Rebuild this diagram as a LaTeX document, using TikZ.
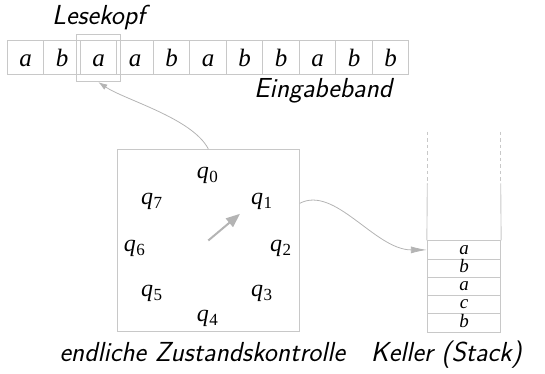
\documentclass[tikz,border=0pt]{standalone}
\usepackage{fontspec}
\newfontfamily\tms{Liberation Serif}
\usetikzlibrary{arrows.meta}
\definecolor{lg}{RGB}{200,200,200}
\definecolor{ag}{RGB}{180,180,180}
\newcommand\qlab[1]{q\kern0.5pt\raisebox{-4pt}{\upshape\fontsize{17}{17}\selectfont #1}}
\begin{document}
\begin{tikzpicture}[x=1pt,y=1pt,
  cell/.style={draw=lg,line width=0.9pt,minimum width=36.5pt,minimum height=33.8pt,inner sep=0pt,
    text height=18.6pt,text depth=0pt,font=\tms\itshape\fontsize{25}{25}\selectfont},
  scell/.style={draw=lg,line width=0.9pt,minimum width=73.4pt,minimum height=18.3pt,inner sep=0pt,
    text height=8.6pt,text depth=0pt,font=\tms\itshape\fontsize{19}{19}\selectfont},
  qnode/.style={inner sep=0pt,font=\tms\itshape\fontsize{24}{24}\selectfont},
  lbl/.style={inner sep=0pt,anchor=base west,font=\sffamily\itshape\fontsize{27.5}{32}\selectfont},
  conn/.style={draw=ag,line width=0.8pt},
  stackline/.style={draw=lg,line width=0.9pt}]
\useasboundingbox (0,0) rectangle (545,-374);
% tape
\foreach \l [count=\i from 0] in {a,b,a,a,b,a,b,b,a,b,b}
  \node[cell] (c\i) at ({7.3+36.5*\i+18.25},-57.4) {\l};
\node[draw=lg,line width=0.9pt,minimum width=44.7pt,minimum height=47pt,inner sep=0pt] (head) at (98.35,-58.2) {};
\node[lbl] (lese) at (52,-25) {Lesekopf};
\node[lbl] (eing) at (254,-97.7) {Eingabeband};
% control box
\node[draw=lg,line width=0.9pt,minimum width=182pt,minimum height=182.4pt,inner sep=0pt] (ctrl) at (208.3,-240.5) {};
\node[qnode] (q0) at (207.3,-175) {\qlab{0}};
\node[qnode] (q1) at (261.7,-201.7) {\qlab{1}};
\node[qnode] (q2) at (280.7,-248.3) {\qlab{2}};
\node[qnode] (q3) at (261.7,-293.3) {\qlab{3}};
\node[qnode] (q4) at (207.3,-318.3) {\qlab{4}};
\node[qnode] (q5) at (151.7,-293.3) {\qlab{5}};
\node[qnode] (q6) at (134.3,-248.3) {\qlab{6}};
\node[qnode] (q7) at (151.7,-201.7) {\qlab{7}};
\draw[draw=ag,line width=2pt,-{Triangle[length=14pt,width=11pt]}] (ctrl.center) -- ++(31.7,26.7);
% stack
\foreach \l [count=\i] in {a,b,a,c,b}
  \node[scell] (s\i) at (464,{-249.9-18.25*(\i-1)}) {\l};
\coordinate (tl) at (427.3,-131.7);
\coordinate (tr) at (500.7,-131.7);
\coordinate (ml) at (427.3,-183.3);
\coordinate (mr) at (500.7,-183.3);
\draw[stackline,dash pattern=on 3.5pt off 3pt] (tl) -- (ml);
\draw[stackline,dash pattern=on 3.5pt off 3pt] (tr) -- (mr);
\draw[stackline] (ml) -- (s1.north west);
\draw[stackline] (mr) -- (s1.north east);
% connectors
\draw[conn,-{Latex[length=9pt,width=6pt]}] (ctrl.north) .. controls (192,-118) and (125,-100) .. (head.south);
\draw[conn,-{Latex[length=16pt,width=7pt]}] ([yshift=37.2pt]ctrl.east) .. controls (335,-185) and (375,-249.9) .. (s1.west);
% labels
\node[lbl] (endl) at (59.3,-361.7) {endliche Zustandskontrolle};
\node[lbl] (kell) at (370.7,-361.7) {Keller (Stack)};
\end{tikzpicture}
\end{document}
